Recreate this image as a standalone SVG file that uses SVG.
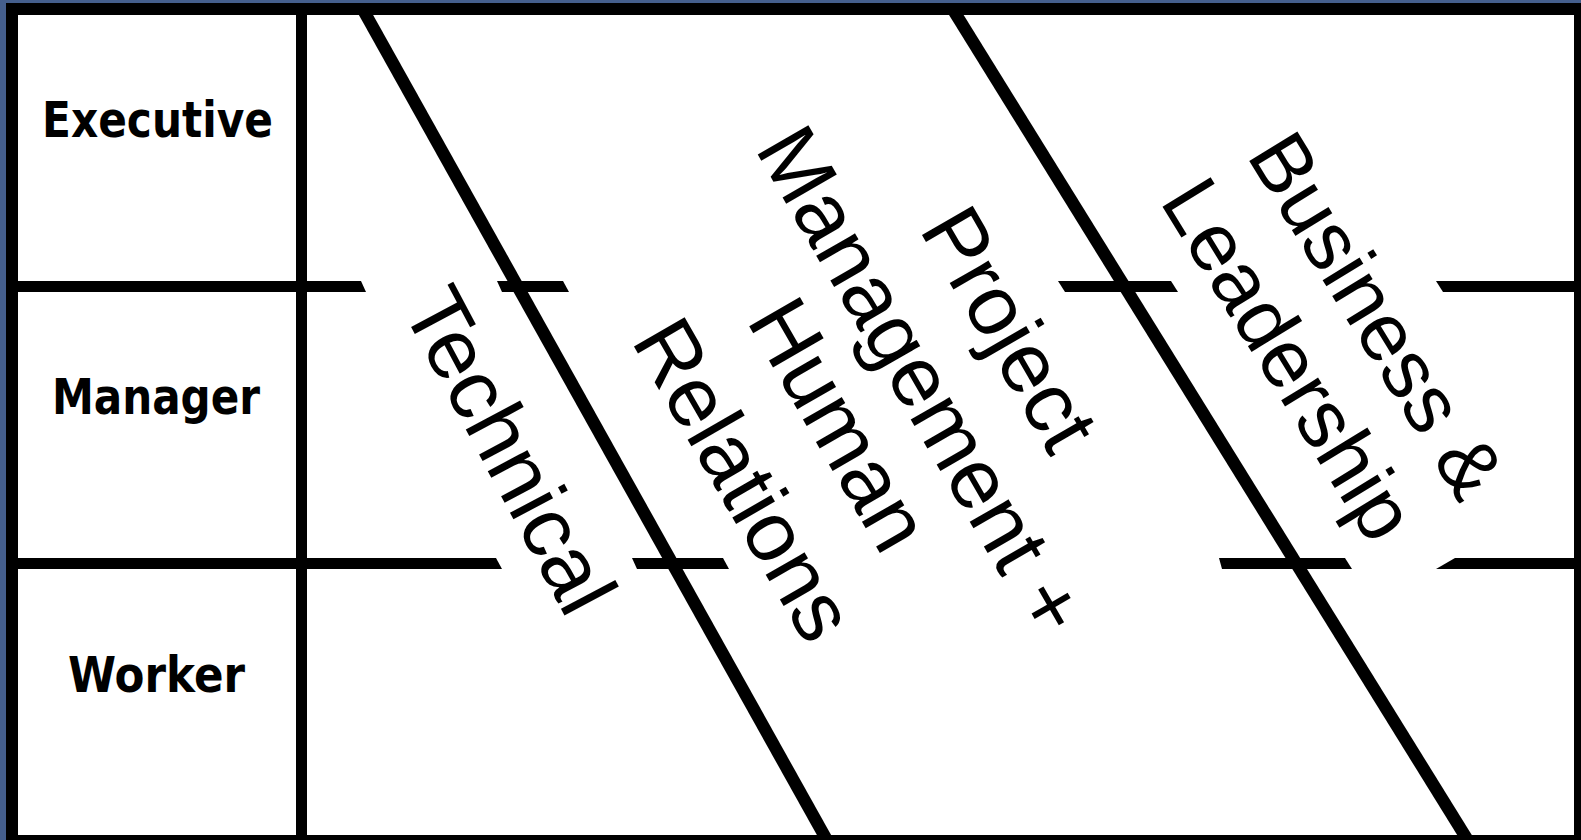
<svg xmlns="http://www.w3.org/2000/svg" width="1581" height="840" viewBox="0 0 1581 840">
  <style>
    .rot { font-family: "Liberation Sans", Arial, sans-serif; font-size: 85px; fill: #000; text-anchor: middle; }
    .rot2 { font-size: 82px; }
    .lbl { font-family: "DejaVu Sans", Verdana, sans-serif; font-weight: bold; font-size: 50px; fill: #000; text-anchor: middle; }
    .ln { fill: #000; }
  </style>
  <rect x="0" y="0" width="1581" height="840" fill="#455f8d"/>
  <rect x="6" y="3" width="1575" height="837" fill="#000"/>
  <rect x="18" y="15" width="1556" height="820" fill="#fff"/>

  <g id="connectors">
    <polygon class="ln" points="18,281 361,281 366,292 18,292"/>
    <polygon class="ln" points="497,281 563,281 569,292 502,292"/>
    <polygon class="ln" points="1058,281 1171,281 1178,292 1065,292"/>
    <polygon class="ln" points="1436,281 1574,281 1574,292 1443,292"/>
    <polygon class="ln" points="18,558 496,558 502,569 18,569"/>
    <polygon class="ln" points="632,558 723,558 729,569 637,569"/>
    <polygon class="ln" points="1219,558 1345,558 1352,569 1222,569"/>
    <polygon class="ln" points="1455,558 1574,558 1574,569 1436,569"/>
    <rect class="ln" x="296" y="15" width="11" height="820"/>
    <polygon class="ln" points="352.2,3 366.4,3 833.9,840 819.7,840"/>
    <polygon class="ln" points="941.6,3 956.2,3 1474.9,840 1460.3,840"/>
  </g>

  <g id="executive"><text class="lbl" x="157.5" y="137" textLength="231" lengthAdjust="spacingAndGlyphs">Executive</text></g>
  <g id="manager"><text class="lbl" x="156" y="414" textLength="208" lengthAdjust="spacingAndGlyphs">Manager</text></g>
  <g id="worker"><text class="lbl" x="156.5" y="692" textLength="177" lengthAdjust="spacingAndGlyphs">Worker</text></g>

  <g id="technical">
    <text class="rot" transform="translate(484,464) rotate(62)">Technical</text>
  </g>
  <g id="project-management">
    <text class="rot" transform="translate(984.6,343.5) rotate(60)">Project</text>
    <text class="rot" transform="translate(896.6,395) rotate(60)">Management +</text>
    <text class="rot" transform="translate(814.2,439) rotate(60)">Human</text>
    <text class="rot" transform="translate(719,494) rotate(60)">Relations</text>
  </g>
  <g id="business-leadership">
    <text class="rot rot2" transform="translate(1353,330) rotate(58.5)">Business &amp;</text>
    <text class="rot rot2" transform="translate(1265,374) rotate(58.5)">Leadership</text>
  </g>
</svg>
